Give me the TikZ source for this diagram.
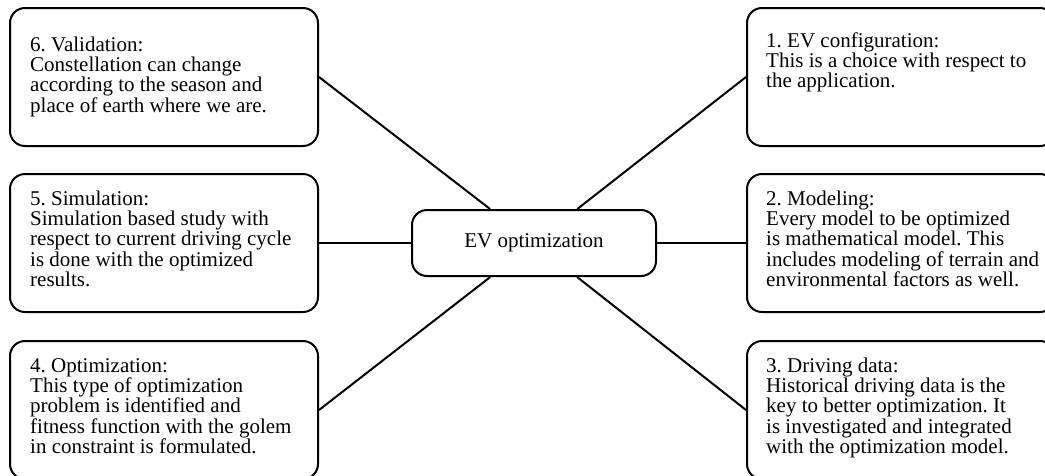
\documentclass[tikz,border=0pt]{standalone}
\usepackage{fontspec}
\setmainfont{Liberation Serif}
\frenchspacing
\begin{document}
\begin{tikzpicture}[x=1pt,y=-1pt,
  box/.style={draw, line width=2pt, rounded corners=15pt, minimum width=308pt, minimum height=138pt, inner sep=0pt},
  hub/.style={draw, line width=2pt, rounded corners=15pt, minimum width=244pt, minimum height=66pt, inner sep=0pt, font=\fontsize{21}{20.3}\selectfont},
  txt/.style={anchor=north west, align=left, inner sep=0pt, font=\fontsize{21}{20.3}\selectfont},
  conn/.style={line width=2pt}]
\useasboundingbox (0,0) rectangle (1045,475);
\clip (0,0) rectangle (1045,475);
% boxes
\node[box] (b6) at (164,77) {};
\node[box] (b5) at (164,243) {};
\node[box] (b4) at (164,410) {};
\node[box] (b1) at (901,77) {};
\node[box] (b2) at (901,243) {};
\node[box] (b3) at (901,410) {};
\node[hub] (c) at (534,243) {EV optimization};
% texts
\node[txt] (t6) at ([xshift=21pt,yshift=-29pt]b6.north west) {\rule{0pt}{15pt}6. Validation:\\Constellation can change\\according to the season and\\place of earth where we are.};
\node[txt] (t5) at ([xshift=21pt,yshift=-17pt]b5.north west) {\rule{0pt}{15pt}5. Simulation:\\Simulation based study with\\respect to current driving cycle\\is done with the optimized\\results.};
\node[txt] (t4) at ([xshift=21pt,yshift=-17pt]b4.north west) {\rule{0pt}{15pt}4. Optimization:\\This type of optimization\\problem is identified and\\fitness function with the golem\\in constraint is formulated.};
\node[txt] (t1) at ([xshift=20pt,yshift=-25pt]b1.north west) {\rule{0pt}{15pt}1. EV configuration:\\This is a choice with respect to\\the application.};
\node[txt] (t2) at ([xshift=20pt,yshift=-17pt]b2.north west) {\rule{0pt}{15pt}2. Modeling:\\Every model to be optimized\\is mathematical model. This\\includes modeling of terrain and\\environmental factors as well.};
\node[txt] (t3) at ([xshift=20pt,yshift=-17pt]b3.north west) {\rule{0pt}{15pt}3. Driving data:\\Historical driving data is the\\key to better optimization. It\\is investigated and integrated\\with the optimization model.};
% connectors
\draw[conn] (b6.east) -- (c);
\draw[conn] (b5.east) -- (c);
\draw[conn] (b4.east) -- (c);
\draw[conn] (b1.west) -- (c);
\draw[conn] (b2.west) -- (c);
\draw[conn] (b3.west) -- (c);
\end{tikzpicture}
\end{document}
